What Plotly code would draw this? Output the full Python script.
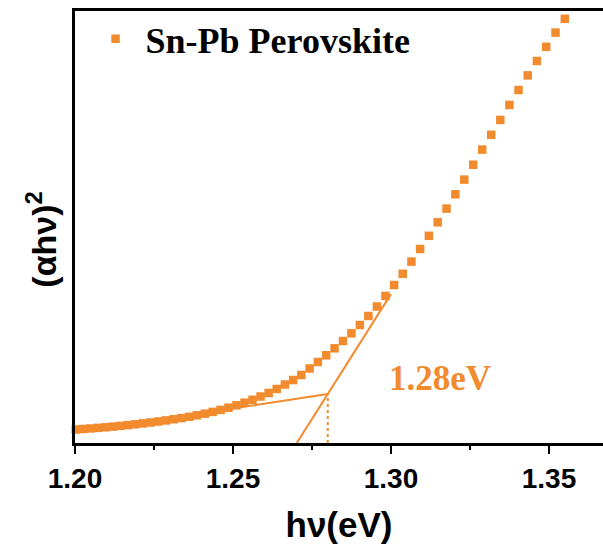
import plotly.graph_objects as go

# Photon energy (eV) of each absorption point and the Tauc quantity (alpha*h*nu)^2 in a.u.
hv_ev = [
    1.20023, 1.20256, 1.20490, 1.20724, 1.20960, 1.21197, 1.21434, 1.21673,
    1.21912, 1.22152, 1.22393, 1.22635, 1.22878, 1.23122, 1.23367, 1.23613,
    1.23860, 1.24108, 1.24357, 1.24607, 1.24858, 1.25110, 1.25363, 1.25617,
    1.25872, 1.26128, 1.26385, 1.26644, 1.26903, 1.27163, 1.27424, 1.27687,
    1.27950, 1.28215, 1.28481, 1.28748, 1.29016, 1.29285, 1.29555, 1.29826,
    1.30099, 1.30372, 1.30647, 1.30923, 1.31200, 1.31478, 1.31758, 1.32038,
    1.32320, 1.32603, 1.32888, 1.33173, 1.33460, 1.33748, 1.34037, 1.34328,
    1.34619, 1.34912, 1.35207, 1.35502,
]
tauc = [
    0.0313, 0.0324, 0.0336, 0.0350, 0.0363, 0.0380, 0.0396, 0.0414,
    0.0433, 0.0454, 0.0475, 0.0498, 0.0523, 0.0549, 0.0576, 0.0606,
    0.0641, 0.0678, 0.0720, 0.0766, 0.0817, 0.0873, 0.0933, 0.1000,
    0.1076, 0.1157, 0.1250, 0.1354, 0.1458, 0.1574, 0.1725, 0.1875,
    0.2030, 0.2192, 0.2361, 0.2539, 0.2731, 0.2940, 0.3160, 0.3403,
    0.3657, 0.3917, 0.4199, 0.4491, 0.4796, 0.5109, 0.5426, 0.5757,
    0.6097, 0.6442, 0.6792, 0.7134, 0.7479, 0.7826, 0.8171, 0.8509,
    0.8843, 0.9171, 0.9500, 0.9819,
]

# Linear fits: sub-gap tail and absorption edge, crossing at the band gap
band_gap_ev = 1.28
gap_level = 0.1134
tail_slope = 1.11
edge_slope = 11.56
tail_start_ev = 1.235
edge_end_ev = 1.30

x_ticks = [1.20, 1.25, 1.30, 1.35]
x_tick_text = ["1.20", "1.25", "1.30", "1.35"]

orange = "#F28A2E"

fig = go.Figure()

# tail fit line
fig.add_trace(go.Scatter(
    x=[tail_start_ev, band_gap_ev],
    y=[gap_level - tail_slope * (band_gap_ev - tail_start_ev), gap_level],
    mode="lines", line=dict(color=orange, width=2), showlegend=False,
    hoverinfo="skip",
))
# absorption-edge fit line, from the baseline upward
edge_zero_ev = band_gap_ev - gap_level / edge_slope
fig.add_trace(go.Scatter(
    x=[edge_zero_ev, edge_end_ev],
    y=[0, gap_level + edge_slope * (edge_end_ev - band_gap_ev)],
    mode="lines", line=dict(color=orange, width=2), showlegend=False,
    hoverinfo="skip",
))
# dotted drop line at the band gap
fig.add_trace(go.Scatter(
    x=[band_gap_ev, band_gap_ev], y=[0, gap_level],
    mode="lines", line=dict(color=orange, width=2, dash="dot"),
    showlegend=False, hoverinfo="skip",
))

fig.add_trace(go.Scatter(
    x=hv_ev, y=tauc, mode="markers", name="Sn-Pb Perovskite",
    marker=dict(symbol="square", size=8.5, color=orange, line=dict(width=0)),
    cliponaxis=False,
))

fig.add_annotation(
    x=band_gap_ev + 0.0355, y=gap_level + 0.036, xref="x", yref="y",
    text=f"{band_gap_ev:.2f}eV", showarrow=False,
    font=dict(family="Liberation Serif", size=35, color=orange, weight="bold"),
)

# y-axis title placed as a rotated annotation
fig.add_annotation(
    x=-0.063, y=0.47, xref="paper", yref="paper",
    text="(αhν)<sup>2</sup>", showarrow=False, textangle=-90,
    xanchor="center", yanchor="middle",
    font=dict(family="Liberation Sans", size=34, color="black", weight="bold"),
)

fig.update_layout(
    width=603, height=552,
    margin=dict(l=75, r=0, t=11, b=109),
    paper_bgcolor="white", plot_bgcolor="white",
    showlegend=True,
    legend=dict(
        x=0.02, y=1.005, xanchor="left", yanchor="top",
        bgcolor="rgba(0,0,0,0)",
        font=dict(family="Liberation Serif", size=36, color="black", weight="bold"),
        itemwidth=50,
    ),
    xaxis=dict(
        range=[1.20, 1.3671],
        tickmode="array", tickvals=x_ticks, ticktext=x_tick_text,
        ticks="outside", ticklen=8, tickwidth=2, tickcolor="black",
        minor=dict(dtick=0.025, tick0=1.2, ticks="outside", ticklen=4,
                   tickwidth=2, tickcolor="black"),
        showline=True, linecolor="black", linewidth=3, mirror=True,
        showgrid=False, zeroline=False,
        tickfont=dict(family="Liberation Sans", size=28, color="black", weight="bold"),
        title=dict(text="hν(eV)", standoff=20,
                   font=dict(family="Liberation Sans", size=35, color="black", weight="bold")),
    ),
    yaxis=dict(
        range=[0, 1],
        showticklabels=False, ticks="",
        showline=True, linecolor="black", linewidth=3,
        showgrid=False, zeroline=False,
    ),
)

fig.write_html("out.html")
